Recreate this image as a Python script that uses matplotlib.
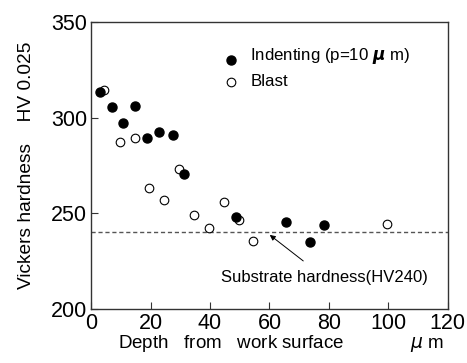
import matplotlib
matplotlib.use("Agg")
import matplotlib.pyplot as plt

plt.rcParams['font.family'] = ['Liberation Sans', 'DejaVu Sans']

# DATA
indent_depth = [3.1, 7.0, 10.7, 14.7, 18.9, 22.7, 27.5, 31.2, 48.9, 65.7, 73.6, 78.3]
indent_hv = [313.6, 305.7, 297.4, 306.1, 289.5, 292.7, 290.8, 270.7, 248.2, 245.4, 235.2, 244.0]
blast_depth = [4.4, 9.8, 14.7, 19.6, 24.6, 29.5, 34.5, 39.5, 44.6, 49.6, 54.4, 99.5]
blast_hv = [314.3, 287.4, 289.5, 263.4, 257.1, 273.0, 249.0, 242.3, 255.9, 246.5, 235.7, 244.4]
substrate_hv = 240
x_ticks = [0, 20, 40, 60, 80, 100, 120]
y_ticks = [200, 250, 300, 350]

# FIGURE
fig = plt.figure(figsize=(4.67, 3.63), dpi=100)
ax = fig.add_axes([0.195, 0.149, 0.764, 0.790])

ax.axhline(substrate_hv, color='#555555', linestyle=(0, (3, 2)), linewidth=1.0, zorder=1)

ax.plot(blast_depth, blast_hv, 'o', markersize=6.2, markerfacecolor='white',
        markeredgecolor='black', markeredgewidth=0.8, zorder=2)
ax.plot(indent_depth, indent_hv, 'o', markersize=6.5, color='black', zorder=3)

# LEGEND (drawn by hand like the original)
ax.plot([47.2], [330.1], 'o', markersize=6.5, color='black')
ax.plot([47.2], [318.8], 'o', markersize=6.2, markerfacecolor='white',
        markeredgecolor='black', markeredgewidth=0.8)
ax.text(53.5, 332.3, r'Indenting (p=10 $\boldsymbol{\mu}$ m)', fontsize=12.2, va='center')
ax.text(53.5, 318.8, 'Blast', fontsize=12.2, va='center')

# ANNOTATION
ax.annotate('Substrate hardness(HV240)', xy=(60.1, 238.7), xytext=(78.4, 216.6),
            fontsize=12, ha='center', va='center',
            arrowprops=dict(arrowstyle='-|>', color='black', lw=0.7,
                            shrinkA=7, shrinkB=0, mutation_scale=8))

# AXES
ax.set_xlim(0, 120)
ax.set_ylim(200, 350)
ax.set_xticks(x_ticks)
ax.set_yticks(y_ticks)
ax.tick_params(direction='in', length=5, labelsize=15.5, pad=3, colors='#333333',
               labelcolor='black')
for s in ax.spines.values():
    s.set_color('#333333')
    s.set_linewidth(1.0)

ax.set_xlabel('Depth   from   work surface             $\\mu$ m', fontsize=13.5, labelpad=0)
ax.xaxis.set_label_coords(0.532, -0.085)
ax.set_ylabel('Vickers hardness    HV 0.025', fontsize=13.8, labelpad=11)

fig.savefig('out.png', dpi=100)
